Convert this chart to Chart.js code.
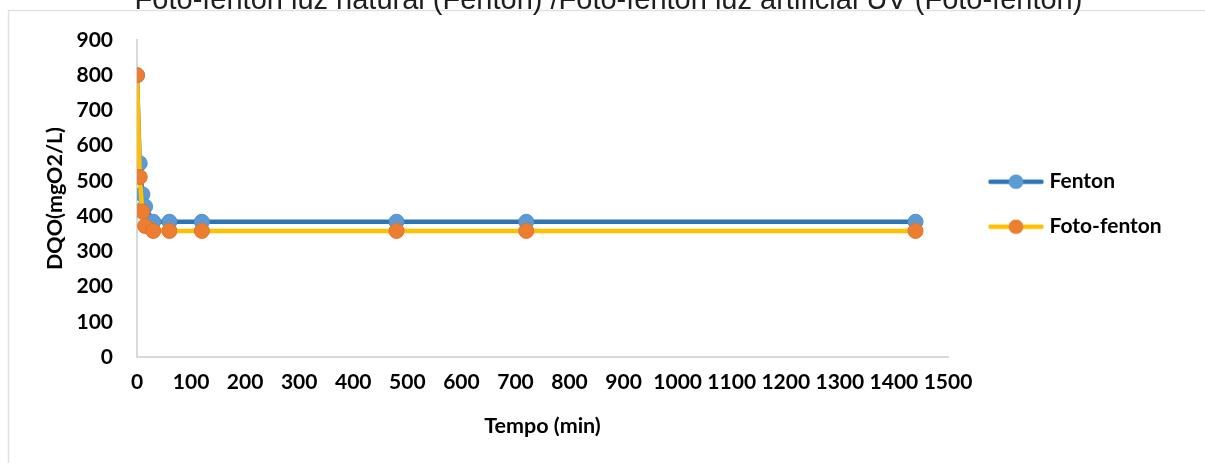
<!DOCTYPE html>
<html>
<head>
<meta charset="utf-8">
<script src="https://cdn.jsdelivr.net/npm/chart.js@4.4.0/dist/chart.umd.min.js"></script>
<style>
  html, body { margin: 0; padding: 0; background: #ffffff; }
  canvas { display: block; }
</style>
</head>
<body>
<canvas id="dqo" width="1205" height="463"></canvas>
<script>
// ---- data ----
const chartTitle = 'Foto-fenton luz natural (Fenton) /Foto-fenton luz artificial UV (Foto-fenton)';
const seriesNames = ['Fenton', 'Foto-fenton'];
const tempoMin = [0, 5, 10, 15, 30, 60, 120, 480, 720, 1440];
const dqoFenton = [800, 550, 462, 427, 384, 384, 384, 384, 384, 384];
const dqoFotoFenton = [800, 511, 413, 372, 358, 358, 358, 358, 358, 358];
const xTickValues = [0, 100, 200, 300, 400, 500, 600, 700, 800, 900, 1000, 1100, 1200, 1300, 1400, 1500];
const yTickValues = [0, 100, 200, 300, 400, 500, 600, 700, 800, 900];
const xAxisLabel = 'Tempo (min)';
const yAxisLabel = 'DQO(mgO2/L)';

// ---- styling ----
const FONT = 'Lato';
const tickFont = { family: FONT, size: 21, weight: 'bold' };
const titleFont = { family: FONT, size: 21.5, weight: 'bold' };
const legendFont = { family: FONT, size: 21, weight: 'bold' };
const legendPad = 24;
const legendBoxW = 46;
const plotRight = 948;

const colors = {
  fentonLine: '#2E75B6', fentonDot: '#5B9BD5', fentonDotEdge: '#5590CB',
  fotoLine: '#FFC000', fotoDot: '#ED7D31', fotoDotEdge: '#E0732A',
  axis: '#D9D9D9', frame: '#DEE2E8'
};

// legend swatch: line segment with a marker in the middle
function swatch(lineColor, dotColor) {
  const c = document.createElement('canvas');
  c.width = 56; c.height = 18;
  const g = c.getContext('2d');
  g.strokeStyle = lineColor; g.lineWidth = 4.5; g.lineCap = 'round';
  g.beginPath(); g.moveTo(2.5, 9); g.lineTo(53.5, 9); g.stroke();
  g.fillStyle = dotColor;
  g.beginPath(); g.arc(28, 9, 7.3, 0, Math.PI * 2); g.fill();
  return c;
}
const swatches = [swatch(colors.fentonLine, colors.fentonDot), swatch(colors.fotoLine, colors.fotoDot)];

// width of the legend box, so the plot ends where the axis line ends
const mctx = document.createElement('canvas').getContext('2d');
mctx.font = `bold ${legendFont.size}px ${FONT}`;
const longest = Math.max(...seriesNames.map(s => mctx.measureText(s).width));
const legendWidth = legendPad + legendBoxW + legendFont.size / 2 + longest + 10;
const rightPad = Math.max(0, 1205 - plotRight - legendWidth);

const toPoints = (xs, ys) => xs.map((x, i) => ({ x, y: ys[i] }));

// frame and clipped heading
const framePlugin = {
  id: 'frame',
  beforeDraw(chart) {
    const ctx = chart.ctx;
    ctx.save();
    ctx.fillStyle = '#ffffff';
    ctx.fillRect(0, 0, chart.width, chart.height);
    ctx.strokeStyle = colors.frame;
    ctx.lineWidth = 1.5;
    ctx.beginPath();
    ctx.moveTo(8.5, chart.height + 2);
    ctx.lineTo(8.5, 10.5);
    ctx.lineTo(chart.width + 2, 10.5);
    ctx.stroke();
    ctx.fillStyle = '#1e1e1e';
    ctx.font = '29px "Liberation Sans", Arial, sans-serif';
    ctx.textAlign = 'center';
    ctx.textBaseline = 'alphabetic';
    ctx.fillText(chartTitle, 608.5, 9);
    ctx.restore();
  }
};

// put the legend block to the right of the plot, near its upper half
const legendPlacement = {
  id: 'legendPlacement',
  afterLayout(chart) {
    const lg = chart.legend;
    if (!lg) return;
    const w = lg.width, h = lg.height;
    lg.left = 993 - legendPad;
    lg.right = lg.left + w;
    lg.top = 171.2 - legendPad;
    lg.bottom = lg.top + h;
  }
};

new Chart(document.getElementById('dqo'), {
  type: 'line',
  data: {
    datasets: [
      {
        label: seriesNames[0],
        data: toPoints(tempoMin, dqoFenton),
        borderColor: colors.fentonLine,
        backgroundColor: colors.fentonDot,
        pointBackgroundColor: colors.fentonDot,
        pointBorderColor: colors.fentonDotEdge,
        pointBorderWidth: 1,
        pointRadius: 7.5,
        borderWidth: 4.5,
        tension: 0,
        order: 2
      },
      {
        label: seriesNames[1],
        data: toPoints(tempoMin, dqoFotoFenton),
        borderColor: colors.fotoLine,
        backgroundColor: colors.fotoDot,
        pointBackgroundColor: colors.fotoDot,
        pointBorderColor: colors.fotoDotEdge,
        pointBorderWidth: 1,
        pointRadius: 7.5,
        borderWidth: 4.5,
        tension: 0,
        order: 1
      }
    ]
  },
  options: {
    responsive: false,
    animation: false,
    devicePixelRatio: 1,
    layout: { padding: { top: 40, left: 0, right: rightPad, bottom: 0 } },
    plugins: {
      title: { display: false },
      tooltip: { enabled: false },
      legend: {
        display: true,
        position: 'right',
        align: 'start',
        fullSize: false,
        labels: {
          usePointStyle: true,
          pointStyleWidth: legendBoxW,
          padding: legendPad,
          color: '#000000',
          font: legendFont,
          sort: (a, b) => a.datasetIndex - b.datasetIndex,
          generateLabels(chart) {
            const items = Chart.defaults.plugins.legend.labels.generateLabels(chart);
            items.forEach(it => { it.pointStyle = swatches[it.datasetIndex]; });
            return items;
          }
        }
      }
    },
    scales: {
      x: {
        type: 'linear',
        min: xTickValues[0],
        max: xTickValues[xTickValues.length - 1],
        grid: { display: false, drawTicks: false },
        border: { display: true, color: colors.axis, width: 2 },
        ticks: {
          stepSize: xTickValues[1] - xTickValues[0],
          autoSkip: false,
          maxRotation: 0,
          padding: 13,
          color: '#000000',
          font: tickFont,
          callback: v => String(v)
        },
        title: { display: true, text: xAxisLabel, color: '#000000', font: titleFont, padding: { top: 0, bottom: 24 } },
        afterFit(scale) { scale.height = 106; }
      },
      y: {
        type: 'linear',
        min: yTickValues[0],
        max: yTickValues[yTickValues.length - 1],
        grid: { display: false, drawTicks: false },
        border: { display: true, color: colors.axis, width: 2 },
        ticks: {
          stepSize: yTickValues[1] - yTickValues[0],
          padding: 24,
          color: '#000000',
          font: tickFont,
          callback: v => String(v)
        },
        title: { display: true, text: yAxisLabel, color: '#000000', font: titleFont, padding: { top: 42, bottom: 0 } },
        afterFit(scale) { scale.width = 137; }
      }
    }
  },
  plugins: [framePlugin, legendPlacement]
});
</script>
</body>
</html>
